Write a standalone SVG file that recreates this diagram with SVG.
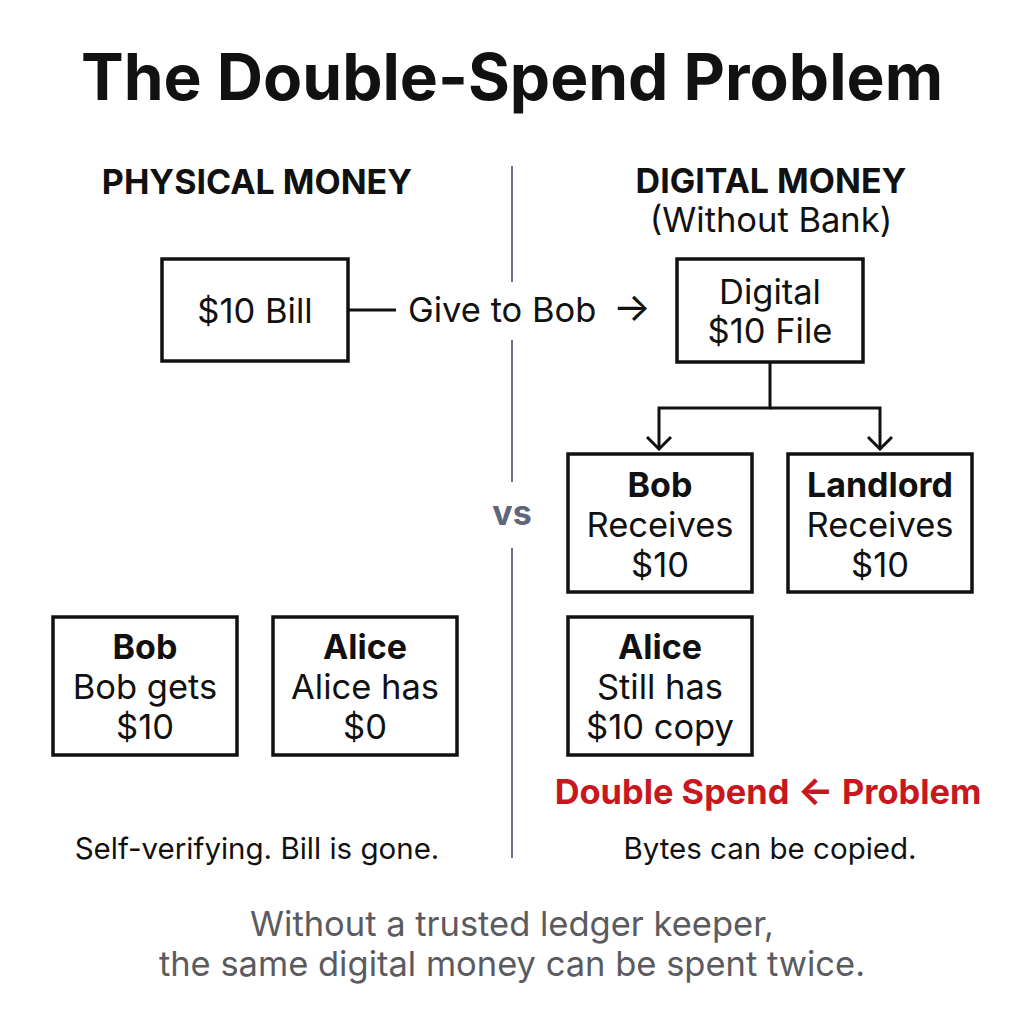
<svg xmlns="http://www.w3.org/2000/svg" width="1024" height="1024" viewBox="0 0 1024 1024">
<defs>
<style>
text{font-family:Inter,"Liberation Sans",sans-serif;text-anchor:middle;fill:#111}
.title{font-size:64px;font-weight:700}
.hdr{font-size:34px;font-weight:700}
.sub{font-size:34.5px}
.box{fill:#fff;stroke:#111;stroke-width:3.5}
.t{font-size:34.5px}
.b{font-size:34px;font-weight:700}
.cap{font-size:29.5px}
.foot{font-size:34.5px;fill:#5b5b5f}
.red{font-size:34.4px;font-weight:700;fill:#c8171e}
.vs{font-size:34px;font-weight:700;fill:#5f6677}
.div{stroke:#6b7280;stroke-width:2}
.con{fill:none;stroke:#111;stroke-width:3}
</style>
<marker id="ah" viewBox="0 0 16 28" refX="14" refY="14" markerWidth="16" markerHeight="28" markerUnits="userSpaceOnUse" orient="auto-start-reverse">
<path d="M2 2 L14 14 L2 26" fill="none" stroke="#111" stroke-width="3"/>
</marker>
</defs>
<rect width="1024" height="1024" fill="#fff"/>
<text class="title" x="512" y="100">The Double-Spend Problem</text>
<g id="divider">
<line class="div" x1="512" y1="166" x2="512" y2="282"/>
<line class="div" x1="512" y1="340" x2="512" y2="482"/>
<line class="div" x1="512" y1="548" x2="512" y2="858"/>
<text class="vs" x="512" y="525">vs</text>
</g>
<g id="physical-header"><text class="hdr" x="257" y="194">PHYSICAL MONEY</text></g>
<g id="digital-header"><text class="hdr" x="771" y="193">DIGITAL MONEY</text><text class="sub" x="771" y="232">(Without Bank)</text></g>
<g id="bill"><rect class="box" x="162" y="259" width="186" height="102"/><text class="t" x="255" y="323">$10 Bill</text></g>
<g id="digital-file"><rect class="box" x="677" y="259" width="186" height="103"/><text class="t" x="770" y="304">Digital</text><text class="t" x="770" y="343">$10 File</text></g>
<g id="connectors">
<line class="con" x1="349" y1="310" x2="396" y2="310"/>
<text class="t" x="408" y="322" style="text-anchor:start">Give to Bob</text>
<text class="t" x="651" y="321" style="text-anchor:end;font-size:40px">→</text>
<path class="con" d="M770 362 V408 H659 V449" marker-end="url(#ah)"/>
<path class="con" d="M770 408 H880 V449" marker-end="url(#ah)"/>
</g>
<g id="bob-digital"><rect class="box" x="568" y="454" width="184" height="138"/><text class="b" x="660" y="497">Bob</text><text class="t" x="660" y="537">Receives</text><text class="t" x="660" y="577">$10</text></g>
<g id="landlord"><rect class="box" x="788" y="454" width="184" height="138"/><text class="b" x="880" y="497">Landlord</text><text class="t" x="880" y="537">Receives</text><text class="t" x="880" y="577">$10</text></g>
<g id="alice-digital"><rect class="box" x="568" y="617" width="184" height="138"/><text class="b" x="660" y="659">Alice</text><text class="t" x="660" y="699">Still has</text><text class="t" x="660" y="739">$10 copy</text></g>
<g id="bob-physical"><rect class="box" x="53" y="617" width="184" height="138"/><text class="b" x="145" y="659">Bob</text><text class="t" x="145" y="699">Bob gets</text><text class="t" x="145" y="739">$10</text></g>
<g id="alice-physical"><rect class="box" x="273" y="617" width="184" height="138"/><text class="b" x="365" y="659">Alice</text><text class="t" x="365" y="699">Alice has</text><text class="t" x="365" y="739">$0</text></g>
<text class="red" x="768" y="804">Double Spend <tspan style="font-size:38px">←</tspan> Problem</text>
<text class="cap" x="257" y="859">Self-verifying. Bill is gone.</text>
<text class="cap" x="770" y="859">Bytes can be copied.</text>
<text class="foot" x="512" y="936">Without a trusted ledger keeper,</text>
<text class="foot" x="512" y="976">the same digital money can be spent twice.</text>
</svg>
